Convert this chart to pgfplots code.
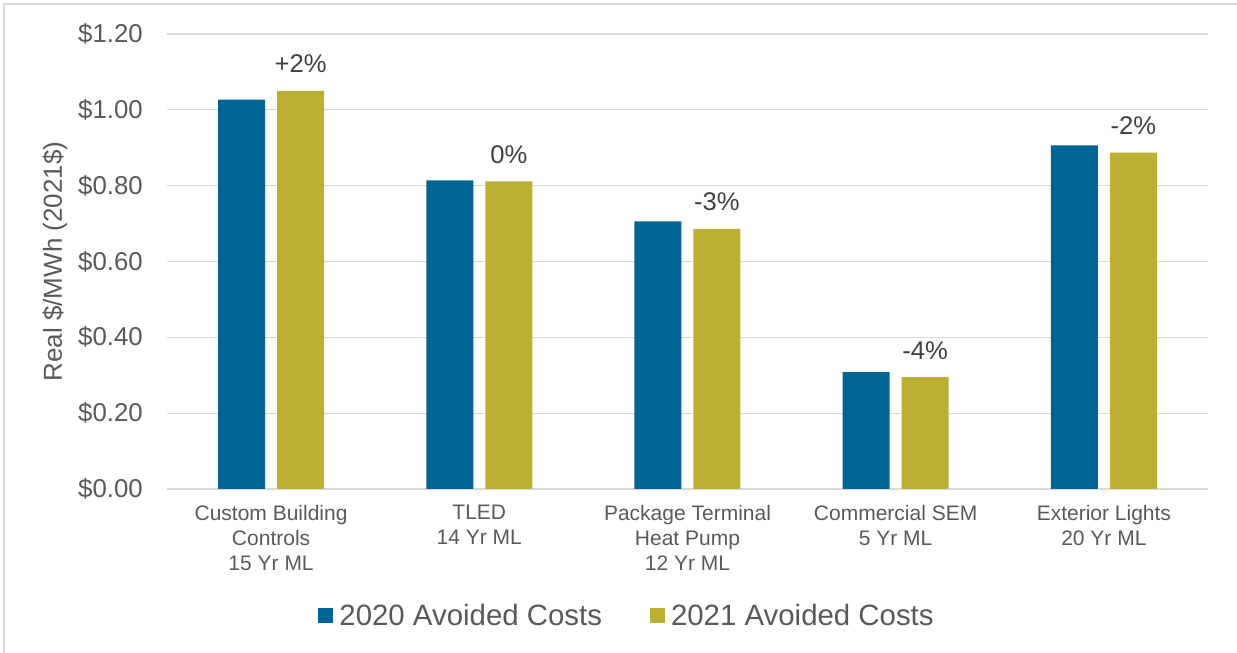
\documentclass[border=0pt]{standalone}
\usepackage{pgfplots}
\pgfplotsset{compat=1.18}
\usepackage{fontspec}
\setmainfont{Liberation Sans}
\definecolor{cblue}{RGB}{0,101,148}
\definecolor{cgold}{RGB}{187,175,52}
\definecolor{ctext}{RGB}{89,89,89}
\definecolor{clab}{RGB}{64,64,64}
\definecolor{cgrid}{RGB}{217,217,217}
\pgfplotstableread{
x y20 y21 lab
0 1.027 1.050 {+2\%}
1 0.814 0.811 {0\%}
2 0.706 0.686 {-3\%}
3 0.308 0.295 {-4\%}
4 0.906 0.887 {-2\%}
}\datatab
\begin{document}
\begin{tikzpicture}
\path[use as bounding box] (0pt,0pt) rectangle (1237pt,653pt);
\draw[cgrid,line width=1.5pt] (4pt,0pt) -- (4pt,649pt) -- (1237pt,649pt);
\begin{axis}[
  at={(167pt,164pt)}, anchor=south west,
  scale only axis, width=1041pt, height=455pt,
  xmin=-0.5, xmax=4.5, ymin=0, ymax=1.2,
  ybar=12pt, bar width=47pt,
  axis y line*=left, axis x line*=bottom,
  y axis line style={draw=none},
  x axis line style={cgrid, line width=1.5pt, -},
  ymajorgrids, grid style={cgrid, line width=1.2pt},
  ytick={0,0.2,0.4,0.6,0.8,1.0,1.2},
  yticklabels={\$0.00,\$0.20,\$0.40,\$0.60,\$0.80,\$1.00,\$1.20},
  yticklabel style={font=\fontsize{25.8}{30}\selectfont, text=ctext, inner sep=0pt, anchor=east, xshift=-24pt},
  xtick={0,1,2,3,4},
  xticklabels={{Custom Building\\Controls\\15 Yr ML},{TLED\\14 Yr ML},{Package Terminal\\Heat Pump\\12 Yr ML},{Commercial SEM\\5 Yr ML},{Exterior Lights\\20 Yr ML}},
  xticklabel style={font=\fontsize{21}{25}\selectfont, text=ctext, align=center, inner sep=0pt, anchor=north, yshift=-16pt},
  major tick length=0pt,
  ylabel={Real \$/MWh (2021\$)},
  ylabel style={font=\fontsize{26}{30}\selectfont, text=ctext, at={(axis description cs:-0.1076,0.5)}, anchor=center},
  legend style={at={(axis description cs:0.441,-0.278)}, anchor=center, draw=none, fill=none,
    font=\fontsize{29.4}{35}\selectfont, text=ctext, column sep=6pt,
    nodes={inner sep=0pt},
    /tikz/every even column/.append style={column sep=48pt}},
  legend columns=2,
  legend image code/.code={\fill[#1] (0pt,-7.5pt) rectangle (15pt,7.5pt);},
]
\addplot[fill=cblue, draw=none] table[x=x,y=y20] {\datatab};
\addlegendentry{2020 Avoided Costs}
\addplot[fill=cgold, draw=none,
  nodes near coords, point meta=explicit symbolic,
  every node near coord/.append style={font=\fontsize{25.6}{30}\selectfont, text=clab, anchor=base, inner sep=0pt, yshift=18pt}]
  table[x=x,y=y21,meta=lab] {\datatab};
\addlegendentry{2021 Avoided Costs}
\end{axis}
\end{tikzpicture}
\end{document}
